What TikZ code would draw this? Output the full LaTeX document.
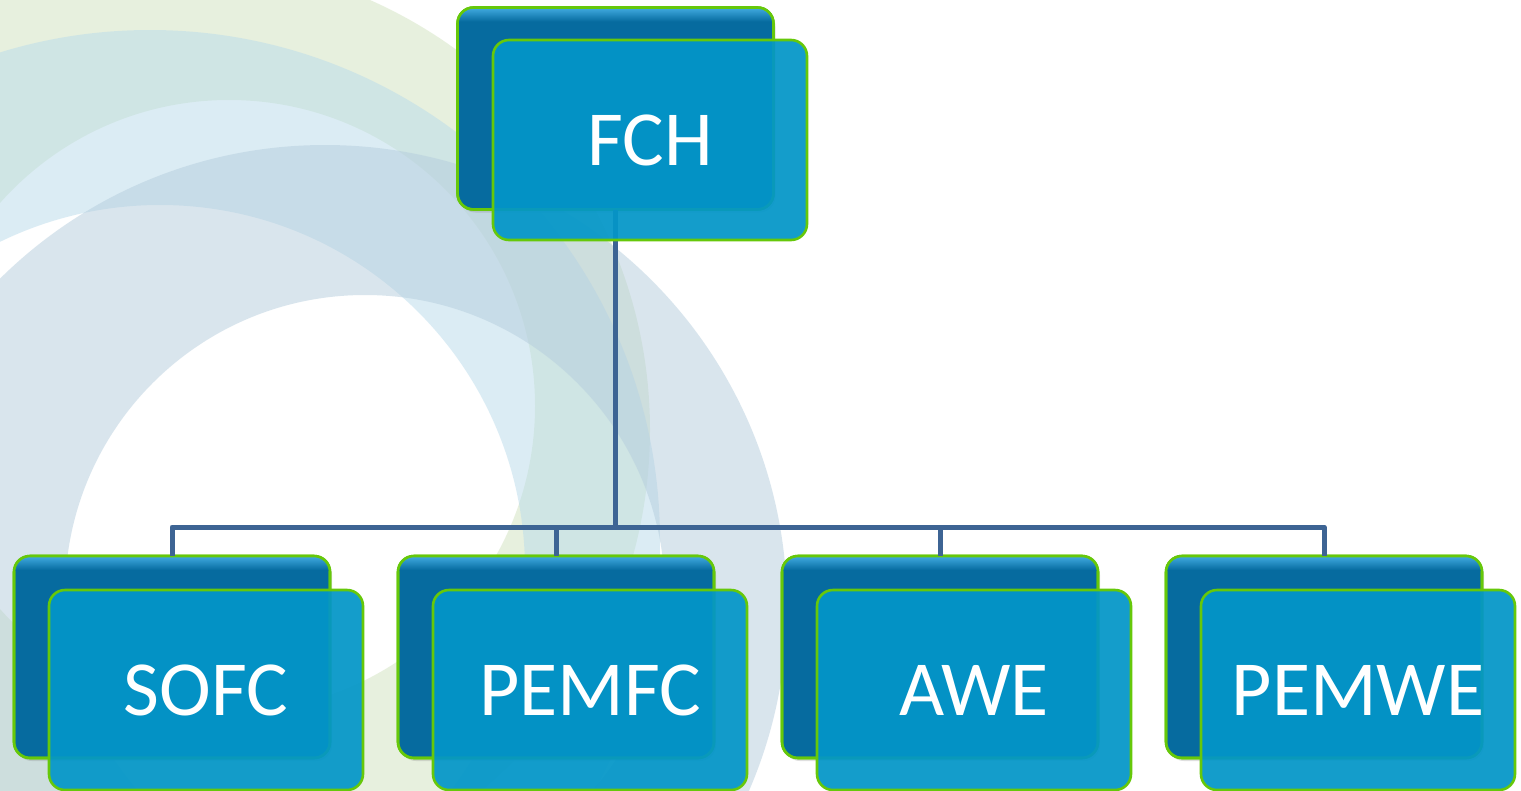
\documentclass[tikz,border=0pt]{standalone}
\usepackage{fontspec}
\setmainfont{Carlito}
\usetikzlibrary{shadows}
\definecolor{backblue}{HTML}{066B9F}
\definecolor{topblue}{HTML}{46B0E6}
\definecolor{frontblue}{HTML}{0396C8}
\definecolor{edgegreen}{HTML}{66C80A}
\definecolor{linkblue}{HTML}{3D6494}
\definecolor{ringgreen}{HTML}{D1E3BF}
\definecolor{ringblue}{HTML}{B9DBEB}
\definecolor{ringgrey}{HTML}{B5CDDD}
\newcommand\topglow[1]{%
  \begin{scope}
    \clip[rounded corners=16pt] (#1.north west) rectangle (#1.south east);
    \shade[top color=topblue, bottom color=backblue] ([yshift=1pt]#1.north west) rectangle ([yshift=-14pt]#1.north east);
  \end{scope}
  \draw[edgegreen, line width=2.6pt, rounded corners=16pt] (#1.north west) rectangle (#1.south east);}
\begin{document}
\begin{tikzpicture}[x=1pt,y=-1pt,
  backbox/.style={draw=edgegreen, line width=2.6pt, fill=backblue, rounded corners=16pt,
    minimum width=316pt, minimum height=202pt, inner sep=0pt, outer sep=0pt,
    drop shadow={opacity=0.25, shadow xshift=2pt, shadow yshift=-3pt}},
  frontbox/.style={draw=edgegreen, line width=2.6pt, fill=frontblue, fill opacity=0.93,
    text opacity=1, rounded corners=16pt, minimum width=314pt, minimum height=200pt,
    inner sep=0pt, outer sep=0pt, text=white, font=\fontsize{78}{80}\selectfont},
  link/.style={draw=linkblue, line width=5pt, line join=round},
  ring/.style={even odd rule, fill opacity=0.5}]
\useasboundingbox (0,0) rectangle (1521,790);
\fill[white] (0,0) rectangle (1521,790);
% background rings
\begin{scope}
  \clip (0,0) rectangle (1521,790);
  \fill[ringgreen, ring] (180,430) circle (470) (229,406) circle (306);
  \fill[ringblue, ring] (150,540) circle (510) (160,570) circle (365);
  \fill[ringgrey, ring] (325,607) circle (462) (365,595) circle (300);
\end{scope}
% back boxes
\node[backbox] (fchB) at (615.5,108.5) {};
\node[backbox] (sofcB) at (172,657) {};
\node[backbox] (pemfcB) at (556,657) {};
\node[backbox] (aweB) at (940,657) {};
\node[backbox] (pemweB) at (1324,657) {};
\topglow{fchB}
\topglow{sofcB}
\topglow{pemfcB}
\topglow{aweB}
\topglow{pemweB}
% connectors
\coordinate (bus) at (0,527);
\draw[link] (fchB.south) -- (fchB.south |- bus) -| (sofcB.north);
\draw[link] (fchB.south) -- (fchB.south |- bus) -| (pemfcB.north);
\draw[link] (fchB.south) -- (fchB.south |- bus) -| (aweB.north);
\draw[link] (fchB.south) -- (fchB.south |- bus) -| (pemweB.north);
% front boxes
\node[frontbox] (fch) at (650,140) {FCH};
\node[frontbox] (sofc) at (206,690) {SOFC};
\node[frontbox] (pemfc) at (590,690) {PEMFC};
\node[frontbox] (awe) at (974,690) {AWE};
\node[frontbox] (pemwe) at (1358,690) {PEMWE};
\end{tikzpicture}
\end{document}
